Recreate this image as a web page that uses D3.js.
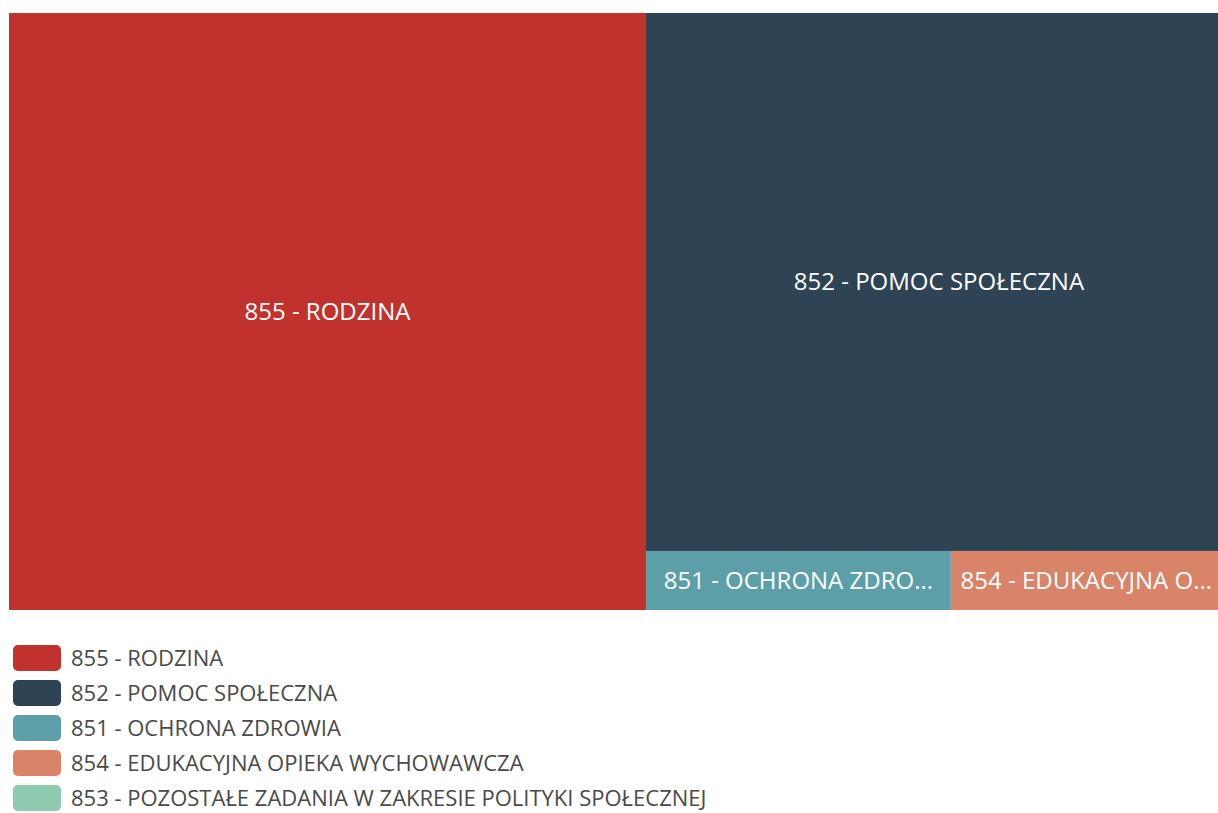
<!DOCTYPE html>
<html>
<head>
<meta charset="utf-8">
<script src="https://cdn.jsdelivr.net/npm/d3@7"></script>
<style>
  body { margin: 0; background: #fff; }
  svg { display: block; font-family: 'Segoe UI', 'Open Sans', sans-serif; }
</style>
</head>
<body>
<svg id="chart"></svg>
<script>
// treemap of social spending by budget chapter
var categories = [
  '855 - RODZINA',
  '852 - POMOC SPOŁECZNA',
  '851 - OCHRONA ZDROWIA',
  '854 - EDUKACYJNA OPIEKA WYCHOWAWCZA',
  '853 - POZOSTAŁE ZADANIA W ZAKRESIE POLITYKI SPOŁECZNEJ'
];
var values = [380.3, 315.3, 18.0, 16.0, 0.6];
var colors = ['#c1322e', '#2e4353', '#5c9fa8', '#d98468', '#8dcab0'];

var width = 1218;
var height = 813;

var svg = d3.select('#chart')
  .attr('width', width)
  .attr('height', height);

var color = d3.scaleOrdinal()
  .domain(categories)
  .range(colors);

var root = d3.hierarchy({
    children: categories.map(function (c, i) { return { name: c, value: values[i] }; })
  })
  .sum(function (d) { return d.value || 0; });

// plot area runs a little past the right edge of the window, like the screenshot
d3.treemap()
  .tile(d3.treemapSquarify)
  .size([1223, 597])
  .paddingInner(0)
  (root);

var plot = svg.append('g')
  .attr('transform', 'translate(9,13)');

var cell = plot.selectAll('g')
  .data(root.leaves())
  .enter().append('g')
    .attr('transform', function (d) { return 'translate(' + d.x0 + ',' + d.y0 + ')'; });

cell.append('rect')
  .attr('width', function (d) { return d.x1 - d.x0; })
  .attr('height', function (d) { return d.y1 - d.y0; })
  .attr('fill', function (d) { return color(d.data.name); });

cell.append('text')
  .attr('x', function (d) { return (d.x1 - d.x0) / 2; })
  .attr('y', function (d) { return (d.y1 - d.y0) / 2; })
  .attr('dy', '0.35em')
  .attr('text-anchor', 'middle')
  .attr('fill', '#fff')
  .style('font-size', '24px')
  .text(function (d) { return d.data.name; })
  .each(function (d) {
    // cut the label with an ellipsis when the cell is too narrow
    var maxW = (d.x1 - d.x0) - 16;
    var el = d3.select(this);
    var txt = d.data.name;
    if (maxW < 10) { el.text(''); return; }
    if (this.getComputedTextLength() <= maxW) return;
    while (txt.length > 0) {
      txt = txt.slice(0, -1);
      el.text(txt.replace(/\s+$/, '') + '...');
      if (this.getComputedTextLength() <= maxW) break;
    }
  });

// legend
var legend = svg.append('g')
  .attr('transform', 'translate(13,645)');

var item = legend.selectAll('g')
  .data(categories)
  .enter().append('g')
    .attr('transform', function (d, i) { return 'translate(0,' + (i * 35) + ')'; });

item.append('rect')
  .attr('width', 48)
  .attr('height', 26)
  .attr('rx', 5)
  .attr('fill', function (d) { return color(d); });

item.append('text')
  .attr('x', 58)
  .attr('y', 13)
  .attr('dy', '0.35em')
  .attr('fill', '#4a4a4a')
  .style('font-size', '22px')
  .text(function (d) { return d; });
</script>
</body>
</html>
